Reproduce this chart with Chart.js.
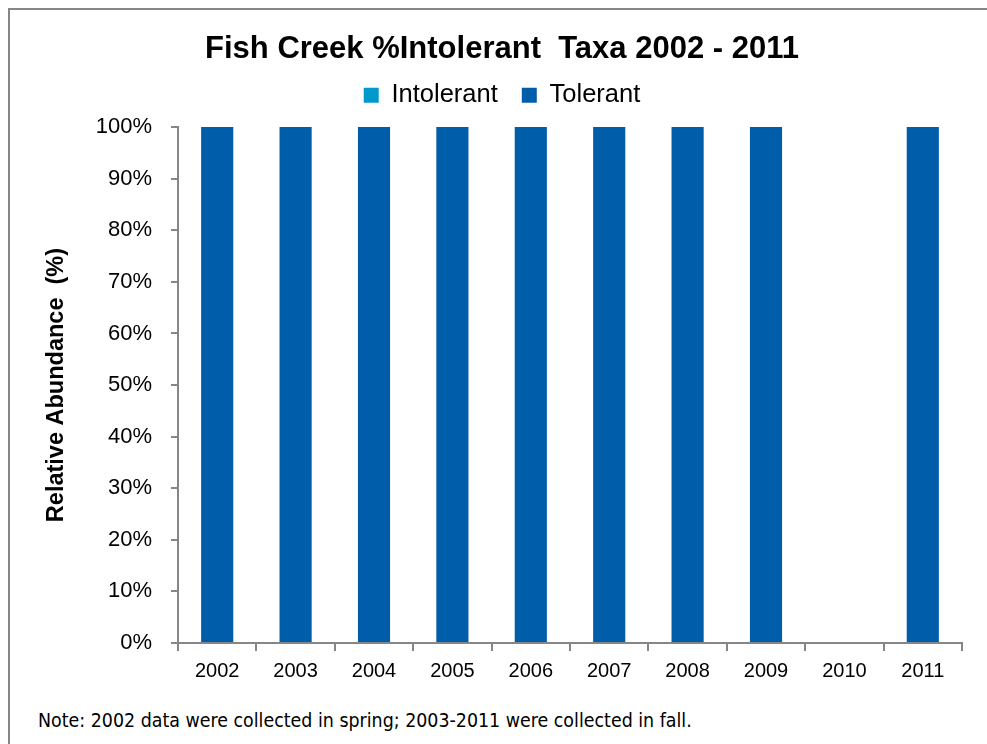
<!DOCTYPE html>
<html>
<head>
<meta charset="utf-8">
<script src="https://cdn.jsdelivr.net/npm/chart.js@4"></script>
<style>
    html, body { margin: 0; padding: 0; background: #fff; overflow: hidden; }
    #wrap { position: relative; width: 987px; height: 744px; }
    #frame {
        position: absolute; left: 8px; top: 8px; width: 1000px; height: 760px;
        border-left: 2px solid #868686; border-top: 2px solid #868686;
    }
    #chart { position: absolute; left: 0; top: 0; }
    #note {
        position: absolute; left: 38px; top: 709px;
        font-family: "DejaVu Sans Condensed", sans-serif;
        font-size: 19.4px; color: #000; white-space: nowrap;
    }
</style>
</head>
<body>
<div id="wrap">
    <div id="frame"></div>
    <canvas id="chart" width="987" height="700"></canvas>
    <div id="note">Note: 2002 data were collected in spring; 2003-2011 were collected in fall.</div>
</div>
<script>
// Sampling years and relative abundance (%) of each tolerance group
const years = ['2002', '2003', '2004', '2005', '2006', '2007', '2008', '2009', '2010', '2011'];
const intolerant = [0, 0, 0, 0, 0, 0, 0, 0, 0, 0];
const tolerant = [100, 100, 100, 100, 100, 100, 100, 100, null, 100];
const yTicks = [0, 10, 20, 30, 40, 50, 60, 70, 80, 90, 100];

const colors = {
    intolerant: '#0099CC',
    tolerant: '#005DAA',
    axis: '#868686'
};

const font = 'Liberation Sans, Arial, sans-serif';

// Extra space between the legend row and the plot area
const legendGap = {
    id: 'legendGap',
    beforeLayout(chart) {
        const lg = chart.legend;
        if (lg && !lg._gapPatched) {
            const fit = lg.fit;
            lg.fit = function () {
                fit.call(this);
                this.height += 9;
            };
            lg._gapPatched = true;
        }
    }
};

new Chart(document.getElementById('chart'), {
    type: 'bar',
    data: {
        labels: years,
        datasets: [
            {
                label: 'Intolerant',
                data: intolerant,
                backgroundColor: colors.intolerant,
                barPercentage: 0.41,
                categoryPercentage: 1
            },
            {
                label: 'Tolerant',
                data: tolerant,
                backgroundColor: colors.tolerant,
                barPercentage: 0.41,
                categoryPercentage: 1
            }
        ]
    },
    options: {
        responsive: false,
        animation: false,
        layout: {
            padding: { left: 42, right: 25, top: 0, bottom: 0 }
        },
        plugins: {
            title: {
                display: true,
                text: 'Fish Creek %Intolerant  Taxa 2002 - 2011',
                color: '#000',
                font: { family: font, size: 31, weight: 'bold', lineHeight: 0.6 },
                padding: { top: 40, bottom: 0 }
            },
            legend: {
                display: true,
                position: 'top',
                labels: {
                    color: '#000',
                    font: { family: font, size: 25.5 },
                    boxWidth: 15,
                    boxHeight: 15,
                    padding: 24
                }
            },
            tooltip: { enabled: false }
        },
        scales: {
            x: {
                stacked: true,
                border: { color: colors.axis, width: 2 },
                grid: {
                    offset: true,
                    drawOnChartArea: false,
                    drawTicks: true,
                    tickLength: 8,
                    color: colors.axis,
                    lineWidth: 2
                },
                ticks: {
                    color: '#000',
                    font: { family: font, size: 20 },
                    padding: 8
                },
                afterFit: (axis) => { axis.height = 57; }
            },
            y: {
                stacked: true,
                min: 0,
                max: 100,
                border: { color: colors.axis, width: 2 },
                grid: {
                    drawOnChartArea: false,
                    drawTicks: true,
                    tickLength: 7,
                    color: colors.axis,
                    lineWidth: 2
                },
                afterBuildTicks: (axis) => {
                    axis.ticks = yTicks.map(v => ({ value: v }));
                },
                ticks: {
                    color: '#000',
                    font: { family: font, size: 22 },
                    padding: 19,
                    callback: (value) => value + '%'
                },
                title: {
                    display: true,
                    text: 'Relative Abundance  (%)',
                    color: '#000',
                    font: { family: font, size: 23.5, weight: 'bold' },
                    padding: 0
                },
                afterFit: (axis) => { axis.width = 136; }
            }
        }
    },
    plugins: [legendGap]
});
</script>
</body>
</html>
